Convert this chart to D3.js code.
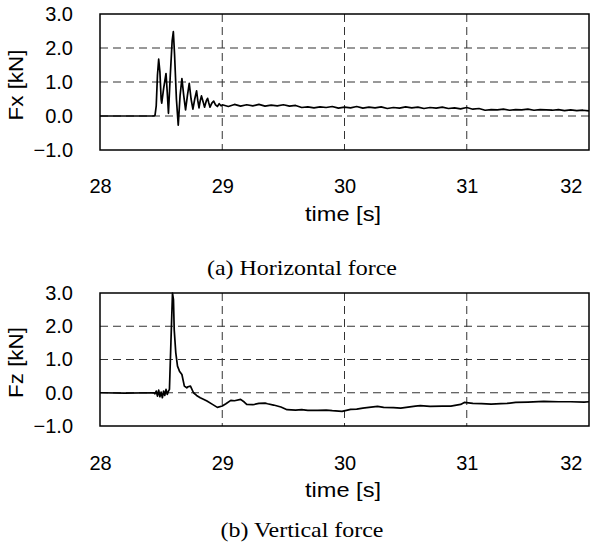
<!DOCTYPE html>
<html><head><meta charset="utf-8">
<script src="https://cdn.jsdelivr.net/npm/d3@7/dist/d3.min.js"></script>
<style>body{margin:0;background:#fff}svg{display:block}</style>
</head><body>
<svg id="c" width="596" height="544"></svg>
<script>
const xTicks = [28, 29, 30, 31, 32];
const yTicks = [-1, 0, 1, 2, 3];
const yTickLabels = ["\u22121.0", "0.0", "1.0", "2.0", "3.0"];

const fxTime = [28.00,28.20,28.44,28.45,28.46,28.47,28.48,28.49,28.50,28.505,28.52,28.54,28.55,28.56,28.575,28.59,28.60,28.61,28.625,28.64,28.655,28.67,28.685,28.70,28.715,28.73,28.745,28.76,28.775,28.79,28.80,28.81,28.82,28.83,28.845,28.855,28.87,28.88,28.89,28.90,28.915,28.93,28.945,28.96,28.975,28.99,
29.00,29.05,29.10,29.15,29.20,29.25,29.30,29.35,29.40,29.45,29.50,29.55,29.60,29.65,29.70,29.75,29.80,29.85,29.90,29.95,30.00,30.05,30.10,30.15,30.20,30.25,30.30,30.35,30.40,30.45,30.50,30.55,30.60,30.65,30.70,30.75,30.80,30.85,30.90,30.95,31.00,31.05,31.10,31.15,31.20,31.25,31.30,31.35,31.40,31.45,31.50,31.55,31.60,31.65,31.70,31.75,31.80,31.85,31.90,31.95,32.00];
const fxValue = [0.0,0.0,0.0,0.02,0.3,1.2,1.67,1.3,0.5,0.38,0.8,1.25,0.7,0.08,1.2,2.2,2.48,1.8,0.5,-0.27,0.6,1.1,0.6,0.18,0.6,0.96,0.5,0.2,0.5,0.74,0.45,0.24,0.45,0.59,0.4,0.26,0.45,0.52,0.38,0.26,0.38,0.44,0.33,0.28,0.36,0.3,
0.33,0.28,0.34,0.29,0.33,0.30,0.34,0.29,0.32,0.30,0.33,0.29,0.31,0.25,0.27,0.24,0.27,0.25,0.28,0.23,0.26,0.24,0.28,0.23,0.26,0.24,0.27,0.22,0.25,0.23,0.27,0.24,0.26,0.22,0.25,0.23,0.26,0.22,0.24,0.21,0.25,0.20,0.22,0.17,0.19,0.18,0.20,0.17,0.19,0.18,0.20,0.17,0.19,0.18,0.17,0.19,0.16,0.18,0.16,0.17,0.15];

const fzTime = [28.00,28.20,28.44,28.45,28.46,28.47,28.48,28.49,28.50,28.51,28.52,28.53,28.54,28.55,28.56,28.568,28.58,28.593,28.601,28.607,28.62,28.634,28.65,28.67,28.69,28.71,28.72,28.74,28.765,28.79,28.82,28.85,28.875,28.92,28.96,29.00,29.03,29.07,29.10,29.15,29.18,29.20,29.25,29.30,29.35,29.37,29.42,29.48,29.53,29.60,29.65,29.70,29.78,29.85,29.90,29.98,30.05,30.10,30.15,30.20,30.27,30.32,30.40,30.46,30.52,30.58,30.62,30.70,30.80,30.87,30.95,30.98,31.05,31.12,31.20,31.28,31.33,31.40,31.50,31.63,31.75,31.85,31.96,32.00];
const fzValue = [0.0,-0.01,0.0,-0.03,0.05,-0.1,0.08,-0.12,0.02,-0.15,0.05,-0.08,0.1,-0.05,0.05,0.1,1.5,3.0,2.8,1.9,1.2,0.8,0.65,0.55,0.2,0.15,0.18,0.2,0.0,-0.08,-0.15,-0.2,-0.25,-0.35,-0.44,-0.4,-0.33,-0.23,-0.24,-0.2,-0.28,-0.35,-0.36,-0.32,-0.31,-0.33,-0.37,-0.43,-0.51,-0.52,-0.51,-0.53,-0.53,-0.52,-0.54,-0.56,-0.5,-0.49,-0.46,-0.44,-0.41,-0.44,-0.45,-0.46,-0.43,-0.40,-0.39,-0.41,-0.40,-0.40,-0.35,-0.29,-0.32,-0.33,-0.34,-0.33,-0.32,-0.29,-0.28,-0.26,-0.27,-0.27,-0.28,-0.27];

const panels = [
  {time: fxTime, value: fxValue, ylabel: "Fx [kN]", caption: "(a) Horizontal force",
   left: 100, right: 589, top: 14, bottom: 150, xPad: 29, xlabY: 221, capY: 275, capLen: 190},
  {time: fzTime, value: fzValue, ylabel: "Fz [kN]", caption: "(b) Vertical force",
   left: 100, right: 589, top: 293, bottom: 426, xPad: 30, xlabY: 497, capY: 537, capLen: 163}
];

const svg = d3.select("#c");
const sans = "'Liberation Sans', Arial, sans-serif";
const serif = "'Liberation Serif', 'Times New Roman', serif";

panels.forEach(p => {
  const x = d3.scaleLinear().domain([28, 32]).range([p.left, p.right]);
  const y = d3.scaleLinear().domain([-1, 3]).range([p.bottom, p.top]);
  const g = svg.append("g");

  // gridlines
  g.selectAll(".hg").data(yTicks.filter(v => v > -1 && v < 3)).enter().append("line")
    .attr("x1", p.left).attr("x2", p.right)
    .attr("y1", d => y(d)).attr("y2", d => y(d))
    .attr("stroke", "#333").attr("stroke-width", 1).attr("stroke-dasharray", "8,5");
  g.selectAll(".vg").data(xTicks.filter(v => v > 28 && v < 32)).enter().append("line")
    .attr("y1", p.top).attr("y2", p.bottom)
    .attr("x1", d => x(d)).attr("x2", d => x(d))
    .attr("stroke", "#333").attr("stroke-width", 1).attr("stroke-dasharray", "8,5");

  // data line
  const pts = p.time.map((t, i) => [t, p.value[i]]);
  g.append("path").datum(pts)
    .attr("d", d3.line().x(d => x(d[0])).y(d => y(d[1])))
    .attr("fill", "none").attr("stroke", "#000").attr("stroke-width", 1.7)
    .attr("stroke-linejoin", "round");

  // frame
  g.append("rect").attr("x", p.left).attr("y", p.top)
    .attr("width", p.right - p.left).attr("height", p.bottom - p.top)
    .attr("fill", "none").attr("stroke", "#000").attr("stroke-width", 1.5);

  // axes (labels only)
  const yAxis = d3.axisLeft(y).tickValues(yTicks).tickSize(0).tickPadding(27)
    .tickFormat((d, i) => yTickLabels[i]);
  const ya = g.append("g").attr("transform", `translate(${p.left},0)`).call(yAxis);
  ya.select(".domain").remove();
  ya.selectAll("text").attr("font-family", sans).attr("font-size", 20).attr("fill", "#000");

  const xAxis = d3.axisBottom(x).tickValues(xTicks).tickSize(0).tickPadding(p.xPad)
    .tickFormat(d3.format("d"));
  const xa = g.append("g").attr("transform", `translate(0,${p.bottom})`).call(xAxis);
  xa.select(".domain").remove();
  xa.selectAll("text").attr("font-family", sans).attr("font-size", 20).attr("fill", "#000");
  // keep the last label inside the canvas, as in the reference
  xa.selectAll(".tick").filter(d => d === 32).select("text")
    .attr("text-anchor", "end").attr("x", -7);

  g.append("text").attr("x", 343).attr("y", p.xlabY).attr("text-anchor", "middle")
    .attr("font-family", sans).attr("font-size", 20)
    .attr("textLength", 76).attr("lengthAdjust", "spacingAndGlyphs").text("time [s]");

  const yc = (p.top + p.bottom) / 2 + 3;
  g.append("text").attr("transform", `translate(23,${yc}) rotate(-90)`)
    .attr("text-anchor", "middle").attr("font-family", sans).attr("font-size", 20)
    .attr("textLength", 71).attr("lengthAdjust", "spacingAndGlyphs")
    .text(p.ylabel);

  g.append("text").attr("x", 302).attr("y", p.capY).attr("text-anchor", "middle")
    .attr("font-family", serif).attr("font-size", 21)
    .attr("textLength", p.capLen).attr("lengthAdjust", "spacingAndGlyphs").text(p.caption);
});
</script>
</body></html>
